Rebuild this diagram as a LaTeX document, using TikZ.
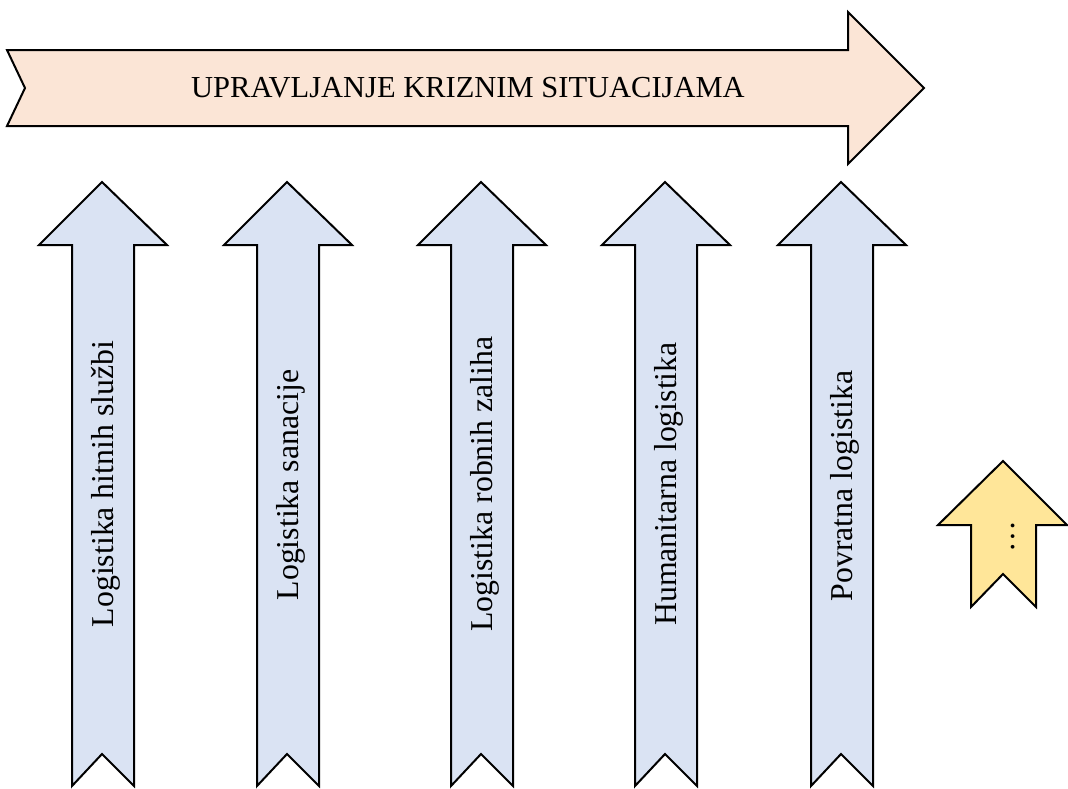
\documentclass[tikz,border=0pt]{standalone}
\usepackage{fontspec}
\setmainfont{Liberation Serif}
\definecolor{peach}{HTML}{FBE5D6}
\definecolor{lightblue}{HTML}{DAE3F3}
\definecolor{gold}{HTML}{FFE699}
\tikzset{
  arrowshape/.style={draw=black, line width=2pt, line join=miter},
  bigtext/.style={font=\fontsize{30.5}{36}\selectfont, inner sep=0pt, anchor=base},
  vtext/.style={font=\fontsize{31.8}{36}\selectfont, inner sep=0pt, anchor=base, rotate=90}
}
\newcommand{\uparr}[2]{% center x, fill colour
  \draw[arrowshape, fill=#2] (#1,182) -- (#1+65,245) -- (#1+32,245) -- (#1+32,786) -- (#1,754)
    -- (#1-30,786) -- (#1-30,245) -- (#1-63,245) -- cycle;
}
\begin{document}
\begin{tikzpicture}[x=1pt,y=-1pt]
\useasboundingbox (0,0) rectangle (1068,788);
% top arrow
\draw[arrowshape, fill=peach] (7,50) -- (848,50) -- (848,12) -- (924,88) -- (848,164)
  -- (848,126) -- (7,126) -- (25,88) -- cycle;
\node[bigtext] (top) at (468,97) {UPRAVLJANJE KRIZNIM SITUACIJAMA};
% vertical arrows
\uparr{102}{lightblue}
\uparr{287}{lightblue}
\uparr{481}{lightblue}
\uparr{665}{lightblue}
\uparr{841}{lightblue}
\node[vtext] (a1) at (113,484) {Logistika hitnih službi};
\node[vtext] (a2) at (298,485) {Logistika sanacije};
\node[vtext] (a3) at (492,484) {Logistika robnih zaliha};
\node[vtext] (a4) at (676,484) {Humanitarna logistika};
\node[vtext] (a5) at (852,486) {Povratna logistika};
% small yellow arrow
\draw[arrowshape, fill=gold] (1003,461) -- (1067,525) -- (1036,525) -- (1036,607)
  -- (1003,574) -- (971,607) -- (971,525) -- (938,525) -- cycle;
\node[vtext] (dots) at (1014,537) {…};
\end{tikzpicture}
\end{document}
